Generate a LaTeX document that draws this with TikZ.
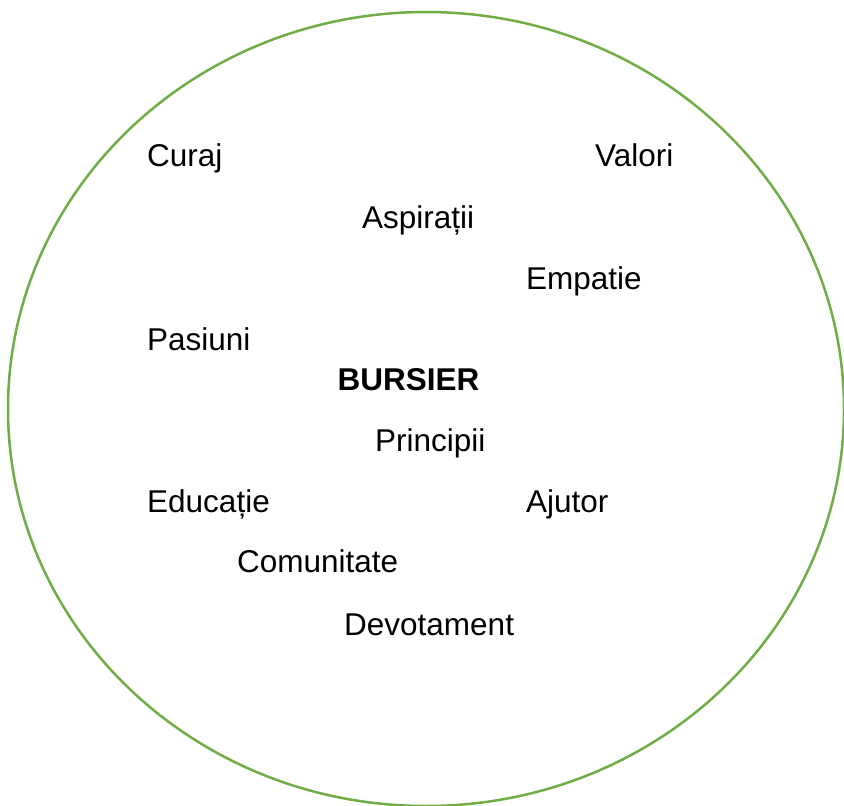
\documentclass[tikz,border=0pt]{standalone}
\usepackage{fontspec}
\setmainfont{Liberation Sans}
\usetikzlibrary{shapes.geometric}
\definecolor{ringgreen}{HTML}{70AD47}
\tikzset{
  word/.style={anchor=base west, inner sep=0pt, font=\fontsize{31.5}{38}\selectfont},
  ring/.style={draw=ringgreen, line width=2.5pt}
}
\begin{document}
\begin{tikzpicture}[x=1pt,y=-1pt]
\useasboundingbox (0,0) rectangle (844,806);
\node[ring, ellipse, minimum width=836pt, minimum height=794pt, inner sep=0pt] (ring) at (426,409) {};
\node[word] (curaj) at (147,166.7) {Curaj};
\node[word] (valori) at (595,166.7) {Valori};
\node[word] (aspiratii) at (362,228.3) {Aspirații};
\node[word] (empatie) at (526,289.3) {Empatie};
\node[word] (pasiuni) at (147,350.7) {Pasiuni};
\node[word, font=\fontsize{31.5}{38}\selectfont\bfseries] (bursier) at (337.5,390) {BURSIER};
\node[word] (principii) at (375,451.7) {Principii};
\node[word] (educatie) at (147,512.5) {Educație};
\node[word] (ajutor) at (526,512.5) {Ajutor};
\node[word] (comunitate) at (237,572.7) {Comunitate};
\node[word] (devotament) at (344,635) {Devotament};
\end{tikzpicture}
\end{document}
